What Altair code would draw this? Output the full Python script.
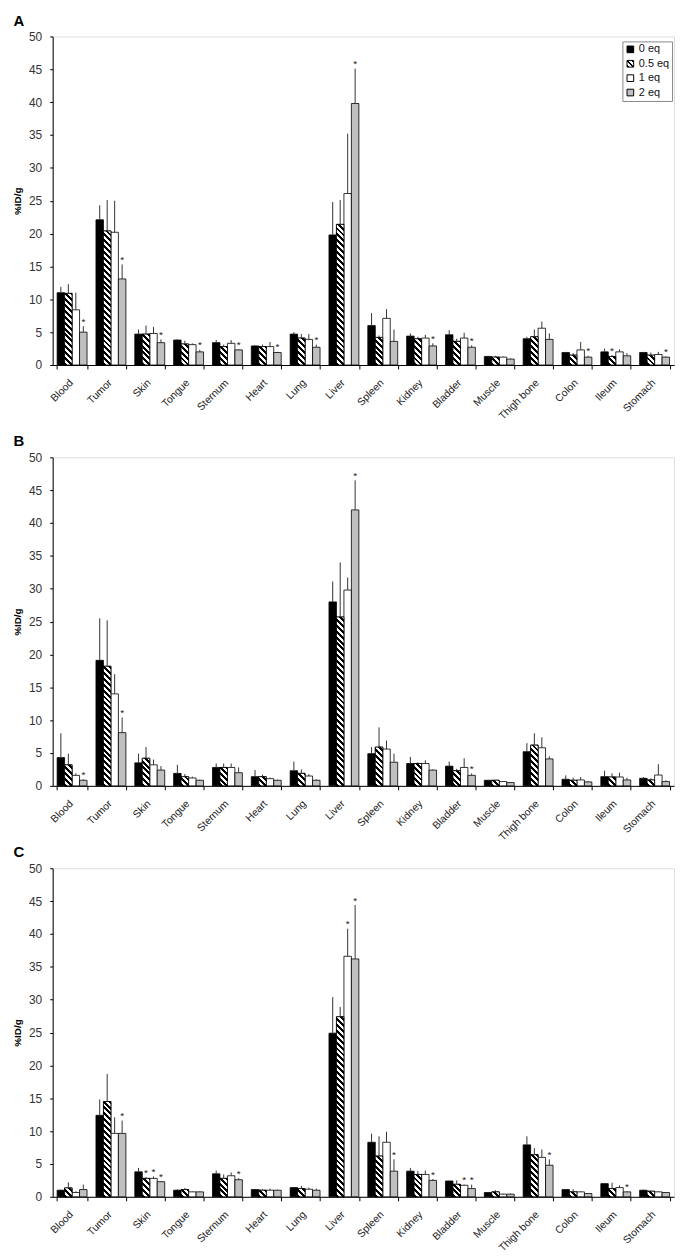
import altair as alt
import json
import math

organs = ["Blood", "Tumor", "Skin", "Tongue", "Sternum", "Heart", "Lung", "Liver",
          "Spleen", "Kidney", "Bladder", "Muscle", "Thigh bone", "Colon", "Ileum", "Stomach"]
series = ["0 eq", "0.5 eq", "1 eq", "2 eq"]

# ---------------- Panel A ----------------
a_mean_0 = [11.0, 22.1, 4.7, 3.8, 3.4, 2.9, 4.7, 19.8, 6.0, 4.4, 4.6, 1.3, 4.0, 1.9, 2.0, 1.9]
a_err_0 = [11.9, 24.3, 5.4, 3.9, 3.8, 3.0, 5.0, 24.8, 7.9, 4.8, 5.3, 1.4, 4.3, 2.0, 2.5, 2.0]
a_mean_05 = [10.9, 20.4, 4.7, 3.2, 2.8, 2.8, 4.1, 21.4, 4.2, 4.0, 3.6, 1.2, 4.3, 1.5, 1.3, 1.5]
a_err_05 = [12.3, 25.1, 6.0, 3.7, 3.1, 3.1, 4.7, 25.1, 4.5, 4.3, 4.0, 1.4, 5.4, 1.8, 1.5, 1.9]
a_mean_1 = [8.4, 20.2, 4.8, 3.1, 3.3, 2.8, 3.9, 26.1, 7.1, 4.1, 4.1, 1.2, 5.6, 2.3, 2.0, 1.6]
a_err_1 = [11.0, 25.0, 5.8, 3.3, 3.8, 3.5, 4.7, 35.2, 8.5, 4.6, 4.9, 1.3, 6.6, 3.5, 2.4, 2.0]
a_mean_2 = [5.0, 13.1, 3.4, 2.0, 2.3, 1.9, 2.7, 39.8, 3.6, 2.9, 2.7, 0.9, 3.9, 1.2, 1.4, 1.2]
a_err_2 = [5.9, 15.3, 3.9, 2.3, 2.4, 2.0, 3.1, 45.1, 5.4, 3.3, 3.0, 1.0, 4.8, 1.4, 1.8, 1.3]
a_star_0 = []
a_star_05 = ["Ileum"]
a_star_1 = []
a_star_2 = ["Blood", "Tumor", "Skin", "Tongue", "Sternum", "Heart", "Lung", "Liver",
            "Kidney", "Bladder", "Colon", "Stomach"]

# ---------------- Panel B ----------------
b_mean_0 = [4.3, 19.1, 3.5, 1.9, 2.8, 1.4, 2.3, 28.0, 4.9, 3.4, 3.0, 0.85, 5.2, 1.0, 1.4, 1.15]
b_err_0 = [8.0, 25.5, 4.9, 3.2, 3.4, 2.4, 3.7, 31.1, 5.9, 4.4, 3.7, 0.9, 6.5, 1.6, 2.3, 1.35]
b_mean_05 = [3.2, 18.2, 4.2, 1.4, 2.8, 1.4, 1.9, 25.7, 5.9, 3.4, 2.3, 0.85, 6.2, 0.85, 1.35, 0.9]
b_err_05 = [4.9, 25.2, 5.9, 1.8, 3.4, 1.7, 2.5, 34.0, 8.9, 3.6, 2.6, 0.9, 8.0, 1.25, 1.9, 1.15]
b_mean_1 = [1.6, 14.0, 3.2, 1.2, 2.8, 1.1, 1.5, 29.8, 5.6, 3.4, 2.8, 0.65, 5.8, 0.9, 1.35, 1.65]
b_err_1 = [1.9, 17.0, 4.0, 1.4, 3.4, 1.25, 1.8, 31.7, 6.9, 3.9, 4.2, 0.7, 7.4, 1.35, 2.0, 3.3]
b_mean_2 = [0.85, 8.1, 2.4, 0.85, 2.0, 0.85, 0.85, 42.0, 3.6, 2.4, 1.6, 0.5, 4.1, 0.6, 0.9, 0.65]
b_err_2 = [1.0, 10.4, 3.0, 0.95, 2.8, 0.95, 1.0, 46.5, 4.9, 2.5, 1.9, 0.55, 4.5, 0.75, 1.25, 0.85]
b_star_0 = []
b_star_05 = []
b_star_1 = []
b_star_2 = ["Blood", "Tumor", "Liver", "Bladder"]

# ---------------- Panel C ----------------
c_mean_0 = [1.0, 12.4, 3.8, 1.0, 3.5, 1.1, 1.4, 24.9, 8.3, 3.9, 2.4, 0.65, 7.9, 1.1, 2.0, 1.0]
c_err_0 = [1.1, 14.8, 4.4, 1.15, 4.0, 1.15, 1.5, 30.4, 9.6, 4.4, 2.45, 0.75, 9.2, 1.15, 2.1, 1.1]
c_mean_05 = [1.35, 14.5, 2.8, 1.1, 2.8, 1.0, 1.25, 27.4, 6.2, 3.4, 1.9, 0.75, 6.4, 0.75, 1.25, 0.85]
c_err_05 = [2.2, 18.7, 3.0, 1.35, 3.4, 1.15, 1.65, 28.9, 9.2, 3.9, 2.5, 1.0, 7.4, 1.15, 2.15, 0.9]
c_mean_1 = [0.65, 9.65, 2.8, 0.75, 3.2, 1.0, 1.15, 36.6, 8.3, 3.4, 1.75, 0.4, 6.0, 0.75, 1.4, 0.75]
c_err_1 = [0.85, 12.1, 3.1, 0.85, 3.7, 1.25, 1.4, 40.8, 9.9, 4.0, 1.85, 0.5, 7.2, 0.85, 1.75, 0.85]
c_mean_2 = [1.1, 9.65, 2.3, 0.75, 2.6, 1.0, 1.0, 36.2, 3.9, 2.5, 1.25, 0.4, 4.8, 0.5, 0.75, 0.65]
c_err_2 = [1.85, 11.6, 2.4, 0.85, 2.85, 1.1, 1.25, 44.4, 5.7, 2.7, 1.85, 0.5, 5.7, 0.55, 0.85, 0.7]
c_star_0 = []
c_star_05 = ["Skin"]
c_star_1 = ["Skin", "Liver", "Bladder"]
c_star_2 = ["Tumor", "Skin", "Sternum", "Liver", "Spleen", "Kidney", "Bladder", "Thigh bone", "Ileum"]

panels = {
    "A": ([a_mean_0, a_mean_05, a_mean_1, a_mean_2], [a_err_0, a_err_05, a_err_1, a_err_2],
          [a_star_0, a_star_05, a_star_1, a_star_2]),
    "B": ([b_mean_0, b_mean_05, b_mean_1, b_mean_2], [b_err_0, b_err_05, b_err_1, b_err_2],
          [b_star_0, b_star_05, b_star_1, b_star_2]),
    "C": ([c_mean_0, c_mean_05, c_mean_1, c_mean_2], [c_err_0, c_err_05, c_err_1, c_err_2],
          [c_star_0, c_star_05, c_star_1, c_star_2]),
}

# ---------------- layout / style ----------------
PLOT_W = 626
PLOT_H = 331
Y_MAX = 50
PAD_INNER = 0.23
PAD_OUTER = 0.115
FONT = "Liberation Sans"
GRAY = "#c0c0c0"
STEP = PLOT_W / (len(organs) - PAD_INNER + 2 * PAD_OUTER)
BAR_W = STEP * (1 - PAD_INNER) / len(series)
PERIOD = 4.2


def stripe_stops(n):
    stops = []
    k = 0
    while k < n:
        t0 = min(k / n, 1)
        t1 = min((k + 0.5) / n, 1)
        t2 = min((k + 1) / n, 1)
        stops += [{"offset": t0, "color": "black"}, {"offset": t1, "color": "black"},
                  {"offset": t1, "color": "white"}, {"offset": t2, "color": "white"}]
        k += 1
    return stops


def hatch(value):
    """Backslash hatch as a linear gradient in bounding-box units of one bar."""
    w = BAR_W
    h = max(value * PLOT_H / Y_MAX, 0.5)
    a = w * (w + h) / (w * w + h * h)
    length = (w + h) / math.sqrt(2)
    return {"gradient": "linear", "x1": 0, "y1": 1, "x2": a, "y2": 1 - a * h / w,
            "stops": stripe_stops(length / PERIOD)}


legend_hatch = {"gradient": "linear", "x1": 0, "y1": 1, "x2": 1, "y2": 0,
                "stops": stripe_stops(2.6)}

y_axis = alt.Axis(title="%ID/g", values=list(range(0, 51, 5)), grid=False,
                  labelOverlap=False, labelFont=FONT, labelFontSize=12, labelColor="#333",
                  tickSize=3, labelPadding=8, tickColor="black",
                  domainColor="black", titleFont=FONT, titleFontSize=10,
                  titleFontWeight="bold", titleColor="black", titlePadding=6)
yscale = alt.Scale(domain=[0, Y_MAX], nice=False)


def panel(letter):
    means, errs, stars = panels[letter]
    rows = []
    for j, s in enumerate(series):
        for i, o in enumerate(organs):
            rows.append({
                "organ": o, "series": s, "value": means[j][i], "err": errs[j][i],
                "star": o in stars[j],
                "grad": hatch(means[j][i]) if s == "0.5 eq" else None,
            })
    data = alt.InlineData(values=rows)

    base = alt.Chart(data).encode(
        x=alt.X("organ:N", sort=organs,
                scale=alt.Scale(paddingInner=PAD_INNER, paddingOuter=PAD_OUTER),
                axis=alt.Axis(title=None, labelAngle=315, labelAlign="right",
                              labelBaseline="middle", labelFont=FONT, labelFontSize=10.5,
                              labelColor="#222", labelPadding=12, labelOffset=-1,
                              tickBand="extent", tickSize=4, tickColor="black",
                              domainColor="black", labelOverlap=False)),
        xOffset=alt.XOffset("series:N", sort=series,
                            scale=alt.Scale(domain=series, paddingInner=0, paddingOuter=0)),
    )
    bars = base.mark_bar(stroke="black", strokeWidth=0.8).encode(
        y=alt.Y("value:Q", scale=yscale, axis=y_axis),
        fill=alt.Fill("series:N", sort=series,
                      scale=alt.Scale(domain=series,
                                      range=["black", {"expr": json.dumps(legend_hatch)},
                                             "white", GRAY]),
                      legend=alt.Legend(title=None, orient="none", legendX=574, legendY=5,
                                        symbolType="square", symbolSize=45,
                                        symbolStrokeColor="black", symbolStrokeWidth=1,
                                        labelFont=FONT, labelFontSize=11, labelColor="#111",
                                        labelOffset=3, rowPadding=2.5, padding=2.5,
                                        strokeColor="#888", fillColor="white")),
    )
    hatched = base.transform_filter(alt.datum.series == "0.5 eq").mark_bar(
        stroke="black", strokeWidth=0.8).encode(
        y=alt.Y("value:Q", scale=yscale, axis=y_axis),
        fill=alt.Fill("grad:N", scale=None, legend=None),
    )
    errbars = base.mark_rule(color="#333", strokeWidth=1).encode(
        y=alt.Y("value:Q", scale=yscale, axis=y_axis), y2="err:Q")
    star_marks = base.transform_filter("datum.star").mark_text(
        text="*", font=FONT, fontSize=10, color="#222", baseline="alphabetic", dy=-1.5
    ).encode(y=alt.Y("err:Q", scale=yscale, axis=y_axis))

    return alt.layer(bars, hatched, errbars, star_marks).properties(
        width=PLOT_W, height=PLOT_H,
        title=alt.TitleParams(letter, anchor="start", font=FONT, fontSize=15,
                              fontWeight="bold", color="black", offset=2, dx=1),
    )


chart = alt.vconcat(
    alt.vconcat(panel("A"), panel("B"), spacing=11),
    panel("C"), spacing=1,
).properties(
    padding={"left": 4, "top": 0, "right": 2, "bottom": 0}
).configure_view(stroke=None).configure(background="white")

chart.save("out.html", embed_options={"renderer": "svg", "actions": False})
